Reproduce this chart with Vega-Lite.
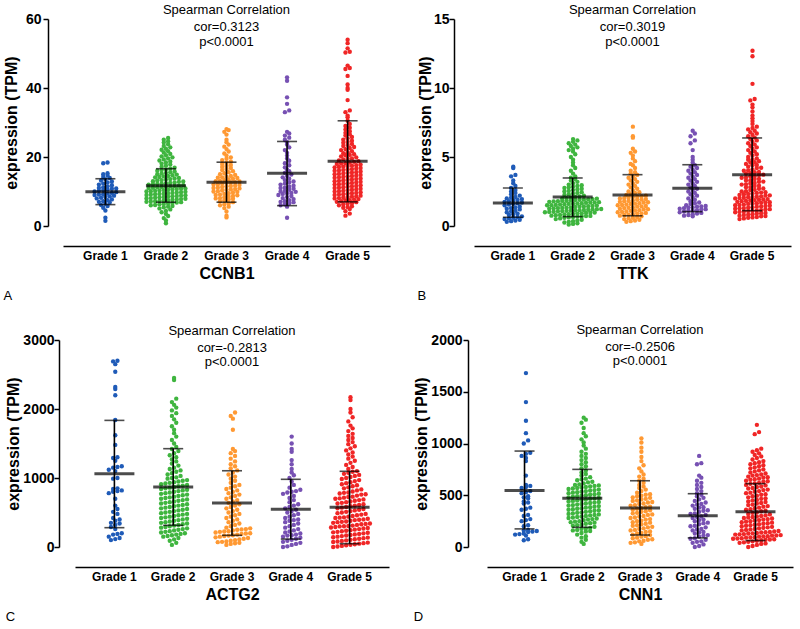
{
"$schema": "https://vega.github.io/schema/vega-lite/v6.json",
"padding": {"left": -25, "top": 4, "right": 5, "bottom": 5},
"config": {
 "font": "Liberation Sans",
 "view": {"stroke": null},
 "axis": {"grid": false, "domainColor": "black", "domainWidth": 1.5, "tickColor": "black", "tickWidth": 1.5, "labelColor": "black", "titleColor": "black", "labelFontWeight": "bold", "titleFontWeight": "bold"},
 "axisX": {"ticks": false, "labelFontSize": 12, "titleFontSize": 16, "labelAngle": 0, "offset": 20, "labelPadding": 4, "titlePadding": 4},
 "axisY": {"labelFontSize": 14, "titleFontSize": 16, "tickSize": 5, "format": "d"},
 "title": {"orient": "bottom", "anchor": "start", "frame": "bounds", "fontSize": 13, "fontWeight": "normal", "offset": 9, "color": "black"}
},
"datasets": {
"stats": [
 {"p":"A","g":1,"m":9.9,"lo":6.2,"hi":13.7},{"p":"A","g":2,"m":11.7,"lo":6.9,"hi":16.6},{"p":"A","g":3,"m":12.7,"lo":6.9,"hi":18.5},{"p":"A","g":4,"m":15.3,"lo":5.9,"hi":24.5},{"p":"A","g":5,"m":18.8,"lo":7.0,"hi":30.5},
 {"p":"B","g":1,"m":1.67,"lo":0.63,"hi":2.75},{"p":"B","g":2,"m":2.1,"lo":0.68,"hi":3.48},{"p":"B","g":3,"m":2.25,"lo":0.74,"hi":3.72},{"p":"B","g":4,"m":2.73,"lo":1.04,"hi":4.44},{"p":"B","g":5,"m":3.72,"lo":1.11,"hi":6.38},
 {"p":"C","g":1,"m":1062,"lo":280,"hi":1835},{"p":"C","g":2,"m":869,"lo":314,"hi":1425},{"p":"C","g":3,"m":637,"lo":169,"hi":1105},{"p":"C","g":4,"m":546,"lo":115,"hi":981},{"p":"C","g":5,"m":575,"lo":48,"hi":1097},
 {"p":"D","g":1,"m":546,"lo":175,"hi":927},{"p":"D","g":2,"m":470,"lo":190,"hi":750},{"p":"D","g":3,"m":378,"lo":116,"hi":640},{"p":"D","g":4,"m":302,"lo":88,"hi":515},{"p":"D","g":5,"m":340,"lo":62,"hi":612}
],
"ccnb1": [
{"g":1,"v":1.5},{"g":1,"v":2.4},{"g":1,"v":4.5},{"g":1,"v":5.3},{"g":1,"v":5.8},{"g":1,"v":6.1},{"g":1,"v":6.4},{"g":1,"v":6.8},{"g":1,"v":7.0},{"g":1,"v":7.2},{"g":1,"v":7.5},{"g":1,"v":7.7},{"g":1,"v":8.0},{"g":1,"v":8.2},{"g":1,"v":8.4},{"g":1,"v":8.6},{"g":1,"v":8.8},{"g":1,"v":9.0},{"g":1,"v":9.1},{"g":1,"v":9.2},{"g":1,"v":9.4},{"g":1,"v":9.6},{"g":1,"v":9.8},{"g":1,"v":10.0},{"g":1,"v":10.2},{"g":1,"v":10.4},{"g":1,"v":10.6},{"g":1,"v":10.8},{"g":1,"v":10.9},{"g":1,"v":11.0},{"g":1,"v":11.2},{"g":1,"v":11.5},{"g":1,"v":11.8},{"g":1,"v":12.0},{"g":1,"v":12.3},{"g":1,"v":12.6},{"g":1,"v":12.9},{"g":1,"v":13.2},{"g":1,"v":13.5},{"g":1,"v":13.9},{"g":1,"v":14.2},{"g":1,"v":14.6},{"g":1,"v":15.0},{"g":1,"v":15.3},{"g":1,"v":18.2},{"g":1,"v":18.4},
{"g":2,"v":0.8},{"g":2,"v":1.6},{"g":2,"v":2.3},{"g":2,"v":2.9},{"g":2,"v":3.5},{"g":2,"v":4.0},{"g":2,"v":4.4},{"g":2,"v":4.8},{"g":2,"v":5.1},{"g":2,"v":5.4},{"g":2,"v":5.6},{"g":2,"v":5.8},{"g":2,"v":6.0},{"g":2,"v":6.1},{"g":2,"v":6.3},{"g":2,"v":6.4},{"g":2,"v":6.5},{"g":2,"v":6.7},{"g":2,"v":6.8},{"g":2,"v":6.9},{"g":2,"v":7.0},{"g":2,"v":7.1},{"g":2,"v":7.2},{"g":2,"v":7.3},{"g":2,"v":7.4},{"g":2,"v":7.5},{"g":2,"v":7.6},{"g":2,"v":7.7},{"g":2,"v":7.8},{"g":2,"v":7.9},{"g":2,"v":8.0},{"g":2,"v":8.1},{"g":2,"v":8.2},{"g":2,"v":8.3},{"g":2,"v":8.4},{"g":2,"v":8.5},{"g":2,"v":8.6},{"g":2,"v":8.7},{"g":2,"v":8.8},{"g":2,"v":8.9},{"g":2,"v":9.0},{"g":2,"v":9.1},{"g":2,"v":9.2},{"g":2,"v":9.3},{"g":2,"v":9.4},{"g":2,"v":9.5},{"g":2,"v":9.6},{"g":2,"v":9.7},{"g":2,"v":9.8},{"g":2,"v":9.9},{"g":2,"v":10.0},{"g":2,"v":10.1},{"g":2,"v":10.2},{"g":2,"v":10.3},{"g":2,"v":10.4},{"g":2,"v":10.5},{"g":2,"v":10.6},{"g":2,"v":10.7},{"g":2,"v":10.8},{"g":2,"v":10.9},{"g":2,"v":11.0},{"g":2,"v":11.1},{"g":2,"v":11.2},{"g":2,"v":11.3},{"g":2,"v":11.4},{"g":2,"v":11.5},{"g":2,"v":11.6},{"g":2,"v":11.7},{"g":2,"v":11.8},{"g":2,"v":12.0},{"g":2,"v":12.1},{"g":2,"v":12.2},{"g":2,"v":12.3},{"g":2,"v":12.4},{"g":2,"v":12.5},{"g":2,"v":12.6},{"g":2,"v":12.8},{"g":2,"v":12.9},{"g":2,"v":13.0},{"g":2,"v":13.2},{"g":2,"v":13.3},{"g":2,"v":13.5},{"g":2,"v":13.6},{"g":2,"v":13.8},{"g":2,"v":13.9},{"g":2,"v":14.1},{"g":2,"v":14.2},{"g":2,"v":14.4},{"g":2,"v":14.5},{"g":2,"v":14.7},{"g":2,"v":14.9},{"g":2,"v":15.0},{"g":2,"v":15.2},{"g":2,"v":15.4},{"g":2,"v":15.6},{"g":2,"v":15.8},{"g":2,"v":16.0},{"g":2,"v":16.2},{"g":2,"v":16.4},{"g":2,"v":16.6},{"g":2,"v":16.9},{"g":2,"v":17.2},{"g":2,"v":17.5},{"g":2,"v":17.8},{"g":2,"v":18.1},{"g":2,"v":18.4},{"g":2,"v":18.7},{"g":2,"v":19.0},{"g":2,"v":19.3},{"g":2,"v":19.6},{"g":2,"v":19.9},{"g":2,"v":20.2},{"g":2,"v":20.5},{"g":2,"v":20.9},{"g":2,"v":21.3},{"g":2,"v":21.7},{"g":2,"v":22.1},{"g":2,"v":22.4},{"g":2,"v":22.8},{"g":2,"v":23.2},{"g":2,"v":23.7},{"g":2,"v":24.2},{"g":2,"v":24.6},{"g":2,"v":25.0},{"g":2,"v":25.5},
{"g":3,"v":2.5},{"g":3,"v":3.0},{"g":3,"v":4.2},{"g":3,"v":5.2},{"g":3,"v":5.6},{"g":3,"v":6.0},{"g":3,"v":6.3},{"g":3,"v":6.6},{"g":3,"v":6.9},{"g":3,"v":7.2},{"g":3,"v":7.5},{"g":3,"v":7.7},{"g":3,"v":7.9},{"g":3,"v":8.0},{"g":3,"v":8.1},{"g":3,"v":8.3},{"g":3,"v":8.5},{"g":3,"v":8.7},{"g":3,"v":8.9},{"g":3,"v":9.0},{"g":3,"v":9.1},{"g":3,"v":9.3},{"g":3,"v":9.5},{"g":3,"v":9.7},{"g":3,"v":9.9},{"g":3,"v":10.0},{"g":3,"v":10.1},{"g":3,"v":10.3},{"g":3,"v":10.5},{"g":3,"v":10.6},{"g":3,"v":10.7},{"g":3,"v":10.9},{"g":3,"v":11.0},{"g":3,"v":11.1},{"g":3,"v":11.3},{"g":3,"v":11.5},{"g":3,"v":11.6},{"g":3,"v":11.7},{"g":3,"v":11.9},{"g":3,"v":12.0},{"g":3,"v":12.1},{"g":3,"v":12.3},{"g":3,"v":12.5},{"g":3,"v":12.6},{"g":3,"v":12.7},{"g":3,"v":12.9},{"g":3,"v":13.0},{"g":3,"v":13.1},{"g":3,"v":13.3},{"g":3,"v":13.5},{"g":3,"v":13.7},{"g":3,"v":13.9},{"g":3,"v":14.0},{"g":3,"v":14.1},{"g":3,"v":14.3},{"g":3,"v":14.5},{"g":3,"v":14.8},{"g":3,"v":15.0},{"g":3,"v":15.3},{"g":3,"v":15.6},{"g":3,"v":15.9},{"g":3,"v":16.2},{"g":3,"v":16.5},{"g":3,"v":16.8},{"g":3,"v":17.1},{"g":3,"v":17.4},{"g":3,"v":17.7},{"g":3,"v":18.0},{"g":3,"v":18.3},{"g":3,"v":18.7},{"g":3,"v":19.1},{"g":3,"v":19.5},{"g":3,"v":19.9},{"g":3,"v":20.4},{"g":3,"v":21.0},{"g":3,"v":21.6},{"g":3,"v":22.3},{"g":3,"v":23.0},{"g":3,"v":23.6},{"g":3,"v":24.3},{"g":3,"v":25.0},{"g":3,"v":26.5},{"g":3,"v":27.3},{"g":3,"v":27.8},{"g":3,"v":28.1},
{"g":4,"v":2.4},{"g":4,"v":5.6},{"g":4,"v":6.0},{"g":4,"v":6.3},{"g":4,"v":6.6},{"g":4,"v":6.9},{"g":4,"v":7.0},{"g":4,"v":7.2},{"g":4,"v":7.5},{"g":4,"v":7.8},{"g":4,"v":8.1},{"g":4,"v":8.4},{"g":4,"v":8.7},{"g":4,"v":9.0},{"g":4,"v":9.3},{"g":4,"v":9.5},{"g":4,"v":9.6},{"g":4,"v":9.9},{"g":4,"v":10.0},{"g":4,"v":10.2},{"g":4,"v":10.5},{"g":4,"v":10.8},{"g":4,"v":11.0},{"g":4,"v":11.1},{"g":4,"v":11.4},{"g":4,"v":11.7},{"g":4,"v":12.0},{"g":4,"v":12.3},{"g":4,"v":12.6},{"g":4,"v":12.9},{"g":4,"v":13.3},{"g":4,"v":13.7},{"g":4,"v":14.1},{"g":4,"v":14.5},{"g":4,"v":14.9},{"g":4,"v":15.4},{"g":4,"v":15.9},{"g":4,"v":16.4},{"g":4,"v":17.0},{"g":4,"v":17.6},{"g":4,"v":18.2},{"g":4,"v":18.9},{"g":4,"v":19.6},{"g":4,"v":20.4},{"g":4,"v":21.2},{"g":4,"v":22.0},{"g":4,"v":22.8},{"g":4,"v":23.6},{"g":4,"v":24.3},{"g":4,"v":25.0},{"g":4,"v":25.6},{"g":4,"v":26.2},{"g":4,"v":26.8},{"g":4,"v":27.3},{"g":4,"v":33.0},{"g":4,"v":33.5},{"g":4,"v":35.4},{"g":4,"v":37.3},{"g":4,"v":42.1},{"g":4,"v":43.1},
{"g":5,"v":3.0},{"g":5,"v":3.6},{"g":5,"v":4.3},{"g":5,"v":4.9},{"g":5,"v":5.3},{"g":5,"v":5.5},{"g":5,"v":5.7},{"g":5,"v":6.0},{"g":5,"v":6.3},{"g":5,"v":6.5},{"g":5,"v":6.6},{"g":5,"v":6.9},{"g":5,"v":7.0},{"g":5,"v":7.2},{"g":5,"v":7.4},{"g":5,"v":7.5},{"g":5,"v":7.6},{"g":5,"v":7.8},{"g":5,"v":8.0},{"g":5,"v":8.1},{"g":5,"v":8.2},{"g":5,"v":8.4},{"g":5,"v":8.5},{"g":5,"v":8.6},{"g":5,"v":8.8},{"g":5,"v":9.0},{"g":5,"v":9.1},{"g":5,"v":9.2},{"g":5,"v":9.4},{"g":5,"v":9.5},{"g":5,"v":9.6},{"g":5,"v":9.8},{"g":5,"v":10.0},{"g":5,"v":10.1},{"g":5,"v":10.2},{"g":5,"v":10.4},{"g":5,"v":10.5},{"g":5,"v":10.6},{"g":5,"v":10.8},{"g":5,"v":11.0},{"g":5,"v":11.1},{"g":5,"v":11.2},{"g":5,"v":11.4},{"g":5,"v":11.5},{"g":5,"v":11.6},{"g":5,"v":11.8},{"g":5,"v":12.0},{"g":5,"v":12.1},{"g":5,"v":12.2},{"g":5,"v":12.4},{"g":5,"v":12.5},{"g":5,"v":12.6},{"g":5,"v":12.8},{"g":5,"v":13.0},{"g":5,"v":13.1},{"g":5,"v":13.2},{"g":5,"v":13.4},{"g":5,"v":13.5},{"g":5,"v":13.6},{"g":5,"v":13.8},{"g":5,"v":14.0},{"g":5,"v":14.1},{"g":5,"v":14.2},{"g":5,"v":14.4},{"g":5,"v":14.5},{"g":5,"v":14.6},{"g":5,"v":14.8},{"g":5,"v":15.0},{"g":5,"v":15.1},{"g":5,"v":15.2},{"g":5,"v":15.4},{"g":5,"v":15.5},{"g":5,"v":15.6},{"g":5,"v":15.8},{"g":5,"v":16.0},{"g":5,"v":16.1},{"g":5,"v":16.2},{"g":5,"v":16.4},{"g":5,"v":16.5},{"g":5,"v":16.6},{"g":5,"v":16.8},{"g":5,"v":17.0},{"g":5,"v":17.1},{"g":5,"v":17.2},{"g":5,"v":17.4},{"g":5,"v":17.5},{"g":5,"v":17.6},{"g":5,"v":17.8},{"g":5,"v":18.0},{"g":5,"v":18.1},{"g":5,"v":18.2},{"g":5,"v":18.4},{"g":5,"v":18.6},{"g":5,"v":18.8},{"g":5,"v":19.0},{"g":5,"v":19.3},{"g":5,"v":19.5},{"g":5,"v":19.6},{"g":5,"v":19.9},{"g":5,"v":20.2},{"g":5,"v":20.5},{"g":5,"v":20.6},{"g":5,"v":20.8},{"g":5,"v":21.1},{"g":5,"v":21.4},{"g":5,"v":21.7},{"g":5,"v":22.0},{"g":5,"v":22.3},{"g":5,"v":22.6},{"g":5,"v":22.9},{"g":5,"v":23.2},{"g":5,"v":23.5},{"g":5,"v":23.8},{"g":5,"v":24.1},{"g":5,"v":24.4},{"g":5,"v":24.7},{"g":5,"v":25.0},{"g":5,"v":25.4},{"g":5,"v":25.8},{"g":5,"v":26.2},{"g":5,"v":26.6},{"g":5,"v":27.0},{"g":5,"v":27.5},{"g":5,"v":28.0},{"g":5,"v":28.5},{"g":5,"v":29.0},{"g":5,"v":29.6},{"g":5,"v":30.5},{"g":5,"v":31.5},{"g":5,"v":32.0},{"g":5,"v":33.0},{"g":5,"v":33.5},{"g":5,"v":36.5},{"g":5,"v":39.5},{"g":5,"v":40.0},{"g":5,"v":41.0},{"g":5,"v":43.5},{"g":5,"v":45.5},{"g":5,"v":45.8},{"g":5,"v":46.5},{"g":5,"v":50.3},{"g":5,"v":50.5},{"g":5,"v":51.5},{"g":5,"v":53.0},{"g":5,"v":54.0}
],
"ttk": [
{"g":1,"v":0.3},{"g":1,"v":0.35},{"g":1,"v":0.4},{"g":1,"v":0.45},{"g":1,"v":0.5},{"g":1,"v":0.55},{"g":1,"v":0.6},{"g":1,"v":0.65},{"g":1,"v":0.7},{"g":1,"v":0.8},{"g":1,"v":0.85},{"g":1,"v":0.9},{"g":1,"v":1.0},{"g":1,"v":1.05},{"g":1,"v":1.1},{"g":1,"v":1.2},{"g":1,"v":1.25},{"g":1,"v":1.3},{"g":1,"v":1.35},{"g":1,"v":1.4},{"g":1,"v":1.5},{"g":1,"v":1.55},{"g":1,"v":1.6},{"g":1,"v":1.65},{"g":1,"v":1.7},{"g":1,"v":1.75},{"g":1,"v":1.8},{"g":1,"v":1.85},{"g":1,"v":1.9},{"g":1,"v":1.95},{"g":1,"v":2.0},{"g":1,"v":2.05},{"g":1,"v":2.1},{"g":1,"v":2.2},{"g":1,"v":2.3},{"g":1,"v":2.4},{"g":1,"v":2.5},{"g":1,"v":2.6},{"g":1,"v":2.75},{"g":1,"v":2.9},{"g":1,"v":3.1},{"g":1,"v":3.3},{"g":1,"v":3.6},{"g":1,"v":3.7},{"g":1,"v":4.2},{"g":1,"v":4.3},
{"g":2,"v":0.1},{"g":2,"v":0.15},{"g":2,"v":0.2},{"g":2,"v":0.25},{"g":2,"v":0.3},{"g":2,"v":0.35},{"g":2,"v":0.4},{"g":2,"v":0.45},{"g":2,"v":0.5},{"g":2,"v":0.55},{"g":2,"v":0.6},{"g":2,"v":0.62},{"g":2,"v":0.65},{"g":2,"v":0.68},{"g":2,"v":0.7},{"g":2,"v":0.72},{"g":2,"v":0.73},{"g":2,"v":0.75},{"g":2,"v":0.78},{"g":2,"v":0.8},{"g":2,"v":0.83},{"g":2,"v":0.86},{"g":2,"v":0.88},{"g":2,"v":0.9},{"g":2,"v":0.92},{"g":2,"v":0.95},{"g":2,"v":0.96},{"g":2,"v":0.98},{"g":2,"v":1.0},{"g":2,"v":1.02},{"g":2,"v":1.03},{"g":2,"v":1.06},{"g":2,"v":1.08},{"g":2,"v":1.1},{"g":2,"v":1.11},{"g":2,"v":1.13},{"g":2,"v":1.15},{"g":2,"v":1.16},{"g":2,"v":1.18},{"g":2,"v":1.2},{"g":2,"v":1.22},{"g":2,"v":1.23},{"g":2,"v":1.25},{"g":2,"v":1.28},{"g":2,"v":1.3},{"g":2,"v":1.31},{"g":2,"v":1.33},{"g":2,"v":1.35},{"g":2,"v":1.38},{"g":2,"v":1.4},{"g":2,"v":1.42},{"g":2,"v":1.43},{"g":2,"v":1.45},{"g":2,"v":1.48},{"g":2,"v":1.5},{"g":2,"v":1.51},{"g":2,"v":1.53},{"g":2,"v":1.55},{"g":2,"v":1.58},{"g":2,"v":1.6},{"g":2,"v":1.62},{"g":2,"v":1.63},{"g":2,"v":1.65},{"g":2,"v":1.68},{"g":2,"v":1.7},{"g":2,"v":1.71},{"g":2,"v":1.73},{"g":2,"v":1.75},{"g":2,"v":1.78},{"g":2,"v":1.8},{"g":2,"v":1.82},{"g":2,"v":1.83},{"g":2,"v":1.85},{"g":2,"v":1.88},{"g":2,"v":1.9},{"g":2,"v":1.91},{"g":2,"v":1.93},{"g":2,"v":1.95},{"g":2,"v":1.98},{"g":2,"v":2.0},{"g":2,"v":2.02},{"g":2,"v":2.05},{"g":2,"v":2.1},{"g":2,"v":2.15},{"g":2,"v":2.2},{"g":2,"v":2.25},{"g":2,"v":2.3},{"g":2,"v":2.35},{"g":2,"v":2.4},{"g":2,"v":2.45},{"g":2,"v":2.5},{"g":2,"v":2.55},{"g":2,"v":2.6},{"g":2,"v":2.65},{"g":2,"v":2.7},{"g":2,"v":2.75},{"g":2,"v":2.8},{"g":2,"v":2.85},{"g":2,"v":2.9},{"g":2,"v":2.95},{"g":2,"v":3.0},{"g":2,"v":3.1},{"g":2,"v":3.2},{"g":2,"v":3.3},{"g":2,"v":3.4},{"g":2,"v":3.5},{"g":2,"v":3.6},{"g":2,"v":3.8},{"g":2,"v":4.0},{"g":2,"v":4.2},{"g":2,"v":4.4},{"g":2,"v":4.6},{"g":2,"v":4.8},{"g":2,"v":5.0},{"g":2,"v":5.2},{"g":2,"v":5.4},{"g":2,"v":5.5},{"g":2,"v":5.6},{"g":2,"v":5.7},{"g":2,"v":5.8},{"g":2,"v":5.9},{"g":2,"v":6.0},{"g":2,"v":6.1},{"g":2,"v":6.2},{"g":2,"v":6.3},
{"g":3,"v":0.3},{"g":3,"v":0.35},{"g":3,"v":0.4},{"g":3,"v":0.45},{"g":3,"v":0.5},{"g":3,"v":0.55},{"g":3,"v":0.6},{"g":3,"v":0.65},{"g":3,"v":0.7},{"g":3,"v":0.75},{"g":3,"v":0.8},{"g":3,"v":0.82},{"g":3,"v":0.85},{"g":3,"v":0.9},{"g":3,"v":0.92},{"g":3,"v":0.95},{"g":3,"v":1.0},{"g":3,"v":1.02},{"g":3,"v":1.05},{"g":3,"v":1.1},{"g":3,"v":1.12},{"g":3,"v":1.15},{"g":3,"v":1.2},{"g":3,"v":1.22},{"g":3,"v":1.25},{"g":3,"v":1.3},{"g":3,"v":1.32},{"g":3,"v":1.35},{"g":3,"v":1.4},{"g":3,"v":1.42},{"g":3,"v":1.45},{"g":3,"v":1.5},{"g":3,"v":1.52},{"g":3,"v":1.55},{"g":3,"v":1.6},{"g":3,"v":1.62},{"g":3,"v":1.65},{"g":3,"v":1.7},{"g":3,"v":1.72},{"g":3,"v":1.75},{"g":3,"v":1.8},{"g":3,"v":1.82},{"g":3,"v":1.85},{"g":3,"v":1.9},{"g":3,"v":1.92},{"g":3,"v":1.95},{"g":3,"v":2.0},{"g":3,"v":2.02},{"g":3,"v":2.05},{"g":3,"v":2.1},{"g":3,"v":2.12},{"g":3,"v":2.15},{"g":3,"v":2.2},{"g":3,"v":2.25},{"g":3,"v":2.3},{"g":3,"v":2.4},{"g":3,"v":2.45},{"g":3,"v":2.5},{"g":3,"v":2.6},{"g":3,"v":2.7},{"g":3,"v":2.8},{"g":3,"v":2.9},{"g":3,"v":3.0},{"g":3,"v":3.1},{"g":3,"v":3.2},{"g":3,"v":3.3},{"g":3,"v":3.4},{"g":3,"v":3.5},{"g":3,"v":3.6},{"g":3,"v":3.7},{"g":3,"v":3.8},{"g":3,"v":3.9},{"g":3,"v":4.0},{"g":3,"v":4.2},{"g":3,"v":4.4},{"g":3,"v":4.5},{"g":3,"v":4.7},{"g":3,"v":4.9},{"g":3,"v":5.1},{"g":3,"v":5.3},{"g":3,"v":5.4},{"g":3,"v":5.6},{"g":3,"v":6.4},{"g":3,"v":6.5},{"g":3,"v":7.2},
{"g":4,"v":0.7},{"g":4,"v":0.75},{"g":4,"v":0.8},{"g":4,"v":0.85},{"g":4,"v":0.9},{"g":4,"v":0.95},{"g":4,"v":1.0},{"g":4,"v":1.05},{"g":4,"v":1.1},{"g":4,"v":1.12},{"g":4,"v":1.15},{"g":4,"v":1.2},{"g":4,"v":1.22},{"g":4,"v":1.25},{"g":4,"v":1.3},{"g":4,"v":1.32},{"g":4,"v":1.35},{"g":4,"v":1.4},{"g":4,"v":1.42},{"g":4,"v":1.45},{"g":4,"v":1.5},{"g":4,"v":1.6},{"g":4,"v":1.65},{"g":4,"v":1.7},{"g":4,"v":1.8},{"g":4,"v":1.9},{"g":4,"v":2.0},{"g":4,"v":2.1},{"g":4,"v":2.2},{"g":4,"v":2.3},{"g":4,"v":2.4},{"g":4,"v":2.5},{"g":4,"v":2.6},{"g":4,"v":2.7},{"g":4,"v":2.8},{"g":4,"v":2.9},{"g":4,"v":3.0},{"g":4,"v":3.1},{"g":4,"v":3.2},{"g":4,"v":3.3},{"g":4,"v":3.4},{"g":4,"v":3.5},{"g":4,"v":3.6},{"g":4,"v":3.7},{"g":4,"v":3.8},{"g":4,"v":3.9},{"g":4,"v":4.0},{"g":4,"v":4.1},{"g":4,"v":4.2},{"g":4,"v":4.3},{"g":4,"v":4.4},{"g":4,"v":4.6},{"g":4,"v":4.8},{"g":4,"v":5.0},{"g":4,"v":5.5},{"g":4,"v":6.0},{"g":4,"v":6.2},{"g":4,"v":6.5},{"g":4,"v":6.7},{"g":4,"v":6.9},
{"g":5,"v":0.5},{"g":5,"v":0.55},{"g":5,"v":0.6},{"g":5,"v":0.62},{"g":5,"v":0.65},{"g":5,"v":0.7},{"g":5,"v":0.72},{"g":5,"v":0.75},{"g":5,"v":0.8},{"g":5,"v":0.82},{"g":5,"v":0.85},{"g":5,"v":0.9},{"g":5,"v":0.92},{"g":5,"v":0.95},{"g":5,"v":1.0},{"g":5,"v":1.02},{"g":5,"v":1.05},{"g":5,"v":1.08},{"g":5,"v":1.1},{"g":5,"v":1.12},{"g":5,"v":1.15},{"g":5,"v":1.2},{"g":5,"v":1.22},{"g":5,"v":1.25},{"g":5,"v":1.28},{"g":5,"v":1.3},{"g":5,"v":1.32},{"g":5,"v":1.35},{"g":5,"v":1.4},{"g":5,"v":1.42},{"g":5,"v":1.45},{"g":5,"v":1.48},{"g":5,"v":1.5},{"g":5,"v":1.52},{"g":5,"v":1.55},{"g":5,"v":1.6},{"g":5,"v":1.62},{"g":5,"v":1.65},{"g":5,"v":1.68},{"g":5,"v":1.7},{"g":5,"v":1.72},{"g":5,"v":1.75},{"g":5,"v":1.8},{"g":5,"v":1.82},{"g":5,"v":1.85},{"g":5,"v":1.88},{"g":5,"v":1.9},{"g":5,"v":1.92},{"g":5,"v":1.95},{"g":5,"v":2.0},{"g":5,"v":2.02},{"g":5,"v":2.05},{"g":5,"v":2.08},{"g":5,"v":2.1},{"g":5,"v":2.12},{"g":5,"v":2.15},{"g":5,"v":2.2},{"g":5,"v":2.22},{"g":5,"v":2.25},{"g":5,"v":2.3},{"g":5,"v":2.32},{"g":5,"v":2.35},{"g":5,"v":2.4},{"g":5,"v":2.42},{"g":5,"v":2.45},{"g":5,"v":2.5},{"g":5,"v":2.52},{"g":5,"v":2.6},{"g":5,"v":2.62},{"g":5,"v":2.7},{"g":5,"v":2.72},{"g":5,"v":2.8},{"g":5,"v":2.82},{"g":5,"v":2.9},{"g":5,"v":2.92},{"g":5,"v":3.0},{"g":5,"v":3.02},{"g":5,"v":3.1},{"g":5,"v":3.12},{"g":5,"v":3.2},{"g":5,"v":3.22},{"g":5,"v":3.3},{"g":5,"v":3.32},{"g":5,"v":3.4},{"g":5,"v":3.42},{"g":5,"v":3.5},{"g":5,"v":3.52},{"g":5,"v":3.6},{"g":5,"v":3.62},{"g":5,"v":3.7},{"g":5,"v":3.72},{"g":5,"v":3.8},{"g":5,"v":3.82},{"g":5,"v":3.9},{"g":5,"v":3.92},{"g":5,"v":4.0},{"g":5,"v":4.02},{"g":5,"v":4.1},{"g":5,"v":4.2},{"g":5,"v":4.22},{"g":5,"v":4.3},{"g":5,"v":4.4},{"g":5,"v":4.42},{"g":5,"v":4.5},{"g":5,"v":4.6},{"g":5,"v":4.62},{"g":5,"v":4.7},{"g":5,"v":4.8},{"g":5,"v":4.82},{"g":5,"v":4.9},{"g":5,"v":5.0},{"g":5,"v":5.1},{"g":5,"v":5.2},{"g":5,"v":5.3},{"g":5,"v":5.4},{"g":5,"v":5.5},{"g":5,"v":5.6},{"g":5,"v":5.7},{"g":5,"v":5.8},{"g":5,"v":5.9},{"g":5,"v":6.0},{"g":5,"v":6.1},{"g":5,"v":6.2},{"g":5,"v":6.3},{"g":5,"v":6.4},{"g":5,"v":6.5},{"g":5,"v":6.6},{"g":5,"v":6.7},{"g":5,"v":6.8},{"g":5,"v":6.9},{"g":5,"v":7.0},{"g":5,"v":7.1},{"g":5,"v":7.2},{"g":5,"v":7.4},{"g":5,"v":7.6},{"g":5,"v":7.8},{"g":5,"v":8.0},{"g":5,"v":8.3},{"g":5,"v":8.6},{"g":5,"v":8.8},{"g":5,"v":9.1},{"g":5,"v":9.2},{"g":5,"v":10.3},{"g":5,"v":12.3},{"g":5,"v":12.7}
],
"actg2": [
{"g":1,"v":100},{"g":1,"v":115},{"g":1,"v":130},{"g":1,"v":150},{"g":1,"v":180},{"g":1,"v":190},{"g":1,"v":200},{"g":1,"v":260},{"g":1,"v":290},{"g":1,"v":320},{"g":1,"v":340},{"g":1,"v":350},{"g":1,"v":380},{"g":1,"v":400},{"g":1,"v":420},{"g":1,"v":480},{"g":1,"v":510},{"g":1,"v":550},{"g":1,"v":600},{"g":1,"v":700},{"g":1,"v":780},{"g":1,"v":800},{"g":1,"v":810},{"g":1,"v":820},{"g":1,"v":840},{"g":1,"v":850},{"g":1,"v":990},{"g":1,"v":1000},{"g":1,"v":1100},{"g":1,"v":1120},{"g":1,"v":1150},{"g":1,"v":1160},{"g":1,"v":1170},{"g":1,"v":1250},{"g":1,"v":1290},{"g":1,"v":1300},{"g":1,"v":1480},{"g":1,"v":1620},{"g":1,"v":1840},{"g":1,"v":2200},{"g":1,"v":2290},{"g":1,"v":2320},{"g":1,"v":2540},{"g":1,"v":2650},{"g":1,"v":2690},{"g":1,"v":2700},
{"g":2,"v":30},{"g":2,"v":60},{"g":2,"v":90},{"g":2,"v":110},{"g":2,"v":130},{"g":2,"v":150},{"g":2,"v":160},{"g":2,"v":170},{"g":2,"v":180},{"g":2,"v":190},{"g":2,"v":200},{"g":2,"v":210},{"g":2,"v":220},{"g":2,"v":230},{"g":2,"v":240},{"g":2,"v":250},{"g":2,"v":260},{"g":2,"v":270},{"g":2,"v":280},{"g":2,"v":290},{"g":2,"v":300},{"g":2,"v":310},{"g":2,"v":320},{"g":2,"v":330},{"g":2,"v":340},{"g":2,"v":350},{"g":2,"v":360},{"g":2,"v":370},{"g":2,"v":380},{"g":2,"v":390},{"g":2,"v":400},{"g":2,"v":410},{"g":2,"v":420},{"g":2,"v":430},{"g":2,"v":440},{"g":2,"v":450},{"g":2,"v":460},{"g":2,"v":470},{"g":2,"v":480},{"g":2,"v":490},{"g":2,"v":500},{"g":2,"v":510},{"g":2,"v":520},{"g":2,"v":530},{"g":2,"v":540},{"g":2,"v":550},{"g":2,"v":560},{"g":2,"v":570},{"g":2,"v":580},{"g":2,"v":590},{"g":2,"v":600},{"g":2,"v":610},{"g":2,"v":620},{"g":2,"v":630},{"g":2,"v":640},{"g":2,"v":650},{"g":2,"v":660},{"g":2,"v":670},{"g":2,"v":680},{"g":2,"v":690},{"g":2,"v":700},{"g":2,"v":710},{"g":2,"v":720},{"g":2,"v":730},{"g":2,"v":740},{"g":2,"v":750},{"g":2,"v":760},{"g":2,"v":770},{"g":2,"v":780},{"g":2,"v":790},{"g":2,"v":800},{"g":2,"v":810},{"g":2,"v":820},{"g":2,"v":830},{"g":2,"v":840},{"g":2,"v":850},{"g":2,"v":860},{"g":2,"v":870},{"g":2,"v":880},{"g":2,"v":890},{"g":2,"v":900},{"g":2,"v":910},{"g":2,"v":920},{"g":2,"v":930},{"g":2,"v":940},{"g":2,"v":950},{"g":2,"v":960},{"g":2,"v":970},{"g":2,"v":990},{"g":2,"v":1000},{"g":2,"v":1010},{"g":2,"v":1030},{"g":2,"v":1050},{"g":2,"v":1070},{"g":2,"v":1090},{"g":2,"v":1110},{"g":2,"v":1130},{"g":2,"v":1150},{"g":2,"v":1180},{"g":2,"v":1210},{"g":2,"v":1240},{"g":2,"v":1270},{"g":2,"v":1300},{"g":2,"v":1330},{"g":2,"v":1360},{"g":2,"v":1390},{"g":2,"v":1420},{"g":2,"v":1450},{"g":2,"v":1500},{"g":2,"v":1550},{"g":2,"v":1600},{"g":2,"v":1650},{"g":2,"v":1700},{"g":2,"v":1750},{"g":2,"v":1800},{"g":2,"v":1850},{"g":2,"v":1900},{"g":2,"v":1940},{"g":2,"v":1980},{"g":2,"v":2020},{"g":2,"v":2060},{"g":2,"v":2100},{"g":2,"v":2150},{"g":2,"v":2420},{"g":2,"v":2450},
{"g":3,"v":30},{"g":3,"v":45},{"g":3,"v":55},{"g":3,"v":60},{"g":3,"v":70},{"g":3,"v":75},{"g":3,"v":80},{"g":3,"v":90},{"g":3,"v":100},{"g":3,"v":110},{"g":3,"v":120},{"g":3,"v":130},{"g":3,"v":140},{"g":3,"v":150},{"g":3,"v":160},{"g":3,"v":165},{"g":3,"v":170},{"g":3,"v":180},{"g":3,"v":190},{"g":3,"v":195},{"g":3,"v":200},{"g":3,"v":210},{"g":3,"v":220},{"g":3,"v":225},{"g":3,"v":230},{"g":3,"v":240},{"g":3,"v":250},{"g":3,"v":255},{"g":3,"v":260},{"g":3,"v":270},{"g":3,"v":280},{"g":3,"v":300},{"g":3,"v":320},{"g":3,"v":340},{"g":3,"v":360},{"g":3,"v":380},{"g":3,"v":400},{"g":3,"v":420},{"g":3,"v":440},{"g":3,"v":460},{"g":3,"v":480},{"g":3,"v":500},{"g":3,"v":520},{"g":3,"v":540},{"g":3,"v":560},{"g":3,"v":580},{"g":3,"v":600},{"g":3,"v":620},{"g":3,"v":640},{"g":3,"v":660},{"g":3,"v":680},{"g":3,"v":700},{"g":3,"v":720},{"g":3,"v":740},{"g":3,"v":760},{"g":3,"v":780},{"g":3,"v":800},{"g":3,"v":820},{"g":3,"v":840},{"g":3,"v":860},{"g":3,"v":880},{"g":3,"v":900},{"g":3,"v":930},{"g":3,"v":960},{"g":3,"v":990},{"g":3,"v":1020},{"g":3,"v":1050},{"g":3,"v":1080},{"g":3,"v":1110},{"g":3,"v":1140},{"g":3,"v":1170},{"g":3,"v":1200},{"g":3,"v":1240},{"g":3,"v":1280},{"g":3,"v":1320},{"g":3,"v":1360},{"g":3,"v":1390},{"g":3,"v":1420},{"g":3,"v":1700},{"g":3,"v":1860},{"g":3,"v":1900},{"g":3,"v":1950},
{"g":4,"v":0},{"g":4,"v":10},{"g":4,"v":30},{"g":4,"v":45},{"g":4,"v":60},{"g":4,"v":75},{"g":4,"v":90},{"g":4,"v":105},{"g":4,"v":120},{"g":4,"v":135},{"g":4,"v":150},{"g":4,"v":165},{"g":4,"v":170},{"g":4,"v":180},{"g":4,"v":195},{"g":4,"v":210},{"g":4,"v":225},{"g":4,"v":240},{"g":4,"v":260},{"g":4,"v":280},{"g":4,"v":300},{"g":4,"v":320},{"g":4,"v":340},{"g":4,"v":360},{"g":4,"v":380},{"g":4,"v":390},{"g":4,"v":400},{"g":4,"v":420},{"g":4,"v":440},{"g":4,"v":460},{"g":4,"v":480},{"g":4,"v":500},{"g":4,"v":520},{"g":4,"v":540},{"g":4,"v":560},{"g":4,"v":580},{"g":4,"v":600},{"g":4,"v":620},{"g":4,"v":650},{"g":4,"v":680},{"g":4,"v":710},{"g":4,"v":740},{"g":4,"v":770},{"g":4,"v":790},{"g":4,"v":800},{"g":4,"v":810},{"g":4,"v":830},{"g":4,"v":860},{"g":4,"v":900},{"g":4,"v":950},{"g":4,"v":1000},{"g":4,"v":1040},{"g":4,"v":1080},{"g":4,"v":1130},{"g":4,"v":1200},{"g":4,"v":1260},{"g":4,"v":1380},{"g":4,"v":1420},{"g":4,"v":1500},{"g":4,"v":1600},
{"g":5,"v":0},{"g":5,"v":8},{"g":5,"v":16},{"g":5,"v":24},{"g":5,"v":32},{"g":5,"v":40},{"g":5,"v":48},{"g":5,"v":56},{"g":5,"v":64},{"g":5,"v":72},{"g":5,"v":80},{"g":5,"v":88},{"g":5,"v":96},{"g":5,"v":104},{"g":5,"v":112},{"g":5,"v":120},{"g":5,"v":128},{"g":5,"v":136},{"g":5,"v":142},{"g":5,"v":150},{"g":5,"v":158},{"g":5,"v":166},{"g":5,"v":174},{"g":5,"v":182},{"g":5,"v":190},{"g":5,"v":198},{"g":5,"v":206},{"g":5,"v":212},{"g":5,"v":220},{"g":5,"v":228},{"g":5,"v":236},{"g":5,"v":244},{"g":5,"v":252},{"g":5,"v":260},{"g":5,"v":268},{"g":5,"v":276},{"g":5,"v":282},{"g":5,"v":290},{"g":5,"v":298},{"g":5,"v":300},{"g":5,"v":305},{"g":5,"v":310},{"g":5,"v":320},{"g":5,"v":330},{"g":5,"v":335},{"g":5,"v":340},{"g":5,"v":350},{"g":5,"v":360},{"g":5,"v":365},{"g":5,"v":370},{"g":5,"v":380},{"g":5,"v":390},{"g":5,"v":395},{"g":5,"v":400},{"g":5,"v":410},{"g":5,"v":420},{"g":5,"v":425},{"g":5,"v":430},{"g":5,"v":440},{"g":5,"v":450},{"g":5,"v":460},{"g":5,"v":470},{"g":5,"v":480},{"g":5,"v":490},{"g":5,"v":500},{"g":5,"v":510},{"g":5,"v":520},{"g":5,"v":530},{"g":5,"v":540},{"g":5,"v":550},{"g":5,"v":560},{"g":5,"v":570},{"g":5,"v":580},{"g":5,"v":590},{"g":5,"v":600},{"g":5,"v":610},{"g":5,"v":620},{"g":5,"v":630},{"g":5,"v":640},{"g":5,"v":650},{"g":5,"v":660},{"g":5,"v":670},{"g":5,"v":680},{"g":5,"v":690},{"g":5,"v":700},{"g":5,"v":705},{"g":5,"v":715},{"g":5,"v":725},{"g":5,"v":730},{"g":5,"v":745},{"g":5,"v":760},{"g":5,"v":765},{"g":5,"v":775},{"g":5,"v":785},{"g":5,"v":790},{"g":5,"v":805},{"g":5,"v":820},{"g":5,"v":835},{"g":5,"v":850},{"g":5,"v":865},{"g":5,"v":880},{"g":5,"v":895},{"g":5,"v":910},{"g":5,"v":925},{"g":5,"v":940},{"g":5,"v":955},{"g":5,"v":970},{"g":5,"v":985},{"g":5,"v":1000},{"g":5,"v":1015},{"g":5,"v":1030},{"g":5,"v":1045},{"g":5,"v":1060},{"g":5,"v":1075},{"g":5,"v":1090},{"g":5,"v":1100},{"g":5,"v":1130},{"g":5,"v":1160},{"g":5,"v":1190},{"g":5,"v":1220},{"g":5,"v":1250},{"g":5,"v":1280},{"g":5,"v":1310},{"g":5,"v":1340},{"g":5,"v":1370},{"g":5,"v":1400},{"g":5,"v":1430},{"g":5,"v":1460},{"g":5,"v":1490},{"g":5,"v":1520},{"g":5,"v":1550},{"g":5,"v":1580},{"g":5,"v":1610},{"g":5,"v":1640},{"g":5,"v":1680},{"g":5,"v":1720},{"g":5,"v":1760},{"g":5,"v":1820},{"g":5,"v":1880},{"g":5,"v":1950},{"g":5,"v":2000},{"g":5,"v":2130},{"g":5,"v":2170}
],
"cnn1": [
{"g":1,"v":65},{"g":1,"v":75},{"g":1,"v":110},{"g":1,"v":120},{"g":1,"v":125},{"g":1,"v":130},{"g":1,"v":145},{"g":1,"v":150},{"g":1,"v":155},{"g":1,"v":160},{"g":1,"v":165},{"g":1,"v":200},{"g":1,"v":210},{"g":1,"v":250},{"g":1,"v":260},{"g":1,"v":270},{"g":1,"v":300},{"g":1,"v":310},{"g":1,"v":360},{"g":1,"v":370},{"g":1,"v":380},{"g":1,"v":420},{"g":1,"v":430},{"g":1,"v":440},{"g":1,"v":470},{"g":1,"v":480},{"g":1,"v":490},{"g":1,"v":520},{"g":1,"v":530},{"g":1,"v":540},{"g":1,"v":570},{"g":1,"v":580},{"g":1,"v":590},{"g":1,"v":600},{"g":1,"v":690},{"g":1,"v":830},{"g":1,"v":860},{"g":1,"v":880},{"g":1,"v":900},{"g":1,"v":910},{"g":1,"v":1000},{"g":1,"v":1030},{"g":1,"v":1100},{"g":1,"v":1220},{"g":1,"v":1400},{"g":1,"v":1680},
{"g":2,"v":30},{"g":2,"v":50},{"g":2,"v":70},{"g":2,"v":90},{"g":2,"v":105},{"g":2,"v":120},{"g":2,"v":135},{"g":2,"v":150},{"g":2,"v":155},{"g":2,"v":160},{"g":2,"v":165},{"g":2,"v":175},{"g":2,"v":180},{"g":2,"v":185},{"g":2,"v":195},{"g":2,"v":205},{"g":2,"v":210},{"g":2,"v":215},{"g":2,"v":225},{"g":2,"v":230},{"g":2,"v":235},{"g":2,"v":240},{"g":2,"v":245},{"g":2,"v":250},{"g":2,"v":260},{"g":2,"v":265},{"g":2,"v":270},{"g":2,"v":275},{"g":2,"v":280},{"g":2,"v":285},{"g":2,"v":290},{"g":2,"v":295},{"g":2,"v":300},{"g":2,"v":305},{"g":2,"v":310},{"g":2,"v":315},{"g":2,"v":320},{"g":2,"v":325},{"g":2,"v":330},{"g":2,"v":335},{"g":2,"v":340},{"g":2,"v":345},{"g":2,"v":350},{"g":2,"v":355},{"g":2,"v":360},{"g":2,"v":365},{"g":2,"v":370},{"g":2,"v":375},{"g":2,"v":380},{"g":2,"v":385},{"g":2,"v":390},{"g":2,"v":395},{"g":2,"v":400},{"g":2,"v":405},{"g":2,"v":410},{"g":2,"v":415},{"g":2,"v":420},{"g":2,"v":425},{"g":2,"v":430},{"g":2,"v":435},{"g":2,"v":440},{"g":2,"v":445},{"g":2,"v":450},{"g":2,"v":455},{"g":2,"v":460},{"g":2,"v":465},{"g":2,"v":470},{"g":2,"v":475},{"g":2,"v":480},{"g":2,"v":485},{"g":2,"v":490},{"g":2,"v":495},{"g":2,"v":500},{"g":2,"v":505},{"g":2,"v":510},{"g":2,"v":515},{"g":2,"v":520},{"g":2,"v":525},{"g":2,"v":530},{"g":2,"v":535},{"g":2,"v":540},{"g":2,"v":545},{"g":2,"v":550},{"g":2,"v":555},{"g":2,"v":560},{"g":2,"v":565},{"g":2,"v":570},{"g":2,"v":575},{"g":2,"v":580},{"g":2,"v":585},{"g":2,"v":590},{"g":2,"v":595},{"g":2,"v":600},{"g":2,"v":605},{"g":2,"v":615},{"g":2,"v":625},{"g":2,"v":630},{"g":2,"v":645},{"g":2,"v":655},{"g":2,"v":660},{"g":2,"v":675},{"g":2,"v":690},{"g":2,"v":705},{"g":2,"v":720},{"g":2,"v":740},{"g":2,"v":760},{"g":2,"v":780},{"g":2,"v":800},{"g":2,"v":820},{"g":2,"v":840},{"g":2,"v":860},{"g":2,"v":880},{"g":2,"v":900},{"g":2,"v":920},{"g":2,"v":950},{"g":2,"v":980},{"g":2,"v":1010},{"g":2,"v":1040},{"g":2,"v":1070},{"g":2,"v":1100},{"g":2,"v":1150},{"g":2,"v":1200},{"g":2,"v":1230},{"g":2,"v":1250},
{"g":3,"v":30},{"g":3,"v":40},{"g":3,"v":45},{"g":3,"v":55},{"g":3,"v":60},{"g":3,"v":70},{"g":3,"v":75},{"g":3,"v":85},{"g":3,"v":90},{"g":3,"v":100},{"g":3,"v":105},{"g":3,"v":115},{"g":3,"v":120},{"g":3,"v":130},{"g":3,"v":135},{"g":3,"v":145},{"g":3,"v":150},{"g":3,"v":160},{"g":3,"v":165},{"g":3,"v":175},{"g":3,"v":180},{"g":3,"v":190},{"g":3,"v":195},{"g":3,"v":205},{"g":3,"v":210},{"g":3,"v":220},{"g":3,"v":225},{"g":3,"v":235},{"g":3,"v":240},{"g":3,"v":250},{"g":3,"v":255},{"g":3,"v":265},{"g":3,"v":270},{"g":3,"v":280},{"g":3,"v":285},{"g":3,"v":295},{"g":3,"v":300},{"g":3,"v":310},{"g":3,"v":315},{"g":3,"v":325},{"g":3,"v":330},{"g":3,"v":340},{"g":3,"v":345},{"g":3,"v":355},{"g":3,"v":360},{"g":3,"v":370},{"g":3,"v":375},{"g":3,"v":385},{"g":3,"v":390},{"g":3,"v":400},{"g":3,"v":405},{"g":3,"v":415},{"g":3,"v":420},{"g":3,"v":430},{"g":3,"v":435},{"g":3,"v":445},{"g":3,"v":450},{"g":3,"v":460},{"g":3,"v":465},{"g":3,"v":475},{"g":3,"v":480},{"g":3,"v":490},{"g":3,"v":495},{"g":3,"v":505},{"g":3,"v":510},{"g":3,"v":525},{"g":3,"v":540},{"g":3,"v":555},{"g":3,"v":570},{"g":3,"v":585},{"g":3,"v":600},{"g":3,"v":620},{"g":3,"v":640},{"g":3,"v":660},{"g":3,"v":680},{"g":3,"v":700},{"g":3,"v":730},{"g":3,"v":760},{"g":3,"v":790},{"g":3,"v":830},{"g":3,"v":870},{"g":3,"v":920},{"g":3,"v":960},{"g":3,"v":1010},{"g":3,"v":1050},
{"g":4,"v":0},{"g":4,"v":10},{"g":4,"v":25},{"g":4,"v":40},{"g":4,"v":50},{"g":4,"v":55},{"g":4,"v":70},{"g":4,"v":80},{"g":4,"v":85},{"g":4,"v":100},{"g":4,"v":110},{"g":4,"v":115},{"g":4,"v":130},{"g":4,"v":140},{"g":4,"v":145},{"g":4,"v":160},{"g":4,"v":170},{"g":4,"v":175},{"g":4,"v":190},{"g":4,"v":200},{"g":4,"v":205},{"g":4,"v":220},{"g":4,"v":230},{"g":4,"v":235},{"g":4,"v":250},{"g":4,"v":260},{"g":4,"v":265},{"g":4,"v":280},{"g":4,"v":290},{"g":4,"v":295},{"g":4,"v":310},{"g":4,"v":320},{"g":4,"v":325},{"g":4,"v":340},{"g":4,"v":350},{"g":4,"v":355},{"g":4,"v":370},{"g":4,"v":380},{"g":4,"v":385},{"g":4,"v":400},{"g":4,"v":410},{"g":4,"v":415},{"g":4,"v":430},{"g":4,"v":445},{"g":4,"v":460},{"g":4,"v":475},{"g":4,"v":490},{"g":4,"v":505},{"g":4,"v":520},{"g":4,"v":540},{"g":4,"v":560},{"g":4,"v":580},{"g":4,"v":600},{"g":4,"v":620},{"g":4,"v":640},{"g":4,"v":670},{"g":4,"v":690},{"g":4,"v":800},{"g":4,"v":810},{"g":4,"v":880},
{"g":5,"v":0},{"g":5,"v":10},{"g":5,"v":20},{"g":5,"v":30},{"g":5,"v":35},{"g":5,"v":40},{"g":5,"v":45},{"g":5,"v":50},{"g":5,"v":55},{"g":5,"v":60},{"g":5,"v":65},{"g":5,"v":70},{"g":5,"v":72},{"g":5,"v":75},{"g":5,"v":80},{"g":5,"v":82},{"g":5,"v":85},{"g":5,"v":90},{"g":5,"v":92},{"g":5,"v":95},{"g":5,"v":100},{"g":5,"v":102},{"g":5,"v":105},{"g":5,"v":110},{"g":5,"v":112},{"g":5,"v":115},{"g":5,"v":120},{"g":5,"v":122},{"g":5,"v":125},{"g":5,"v":130},{"g":5,"v":132},{"g":5,"v":135},{"g":5,"v":140},{"g":5,"v":142},{"g":5,"v":145},{"g":5,"v":150},{"g":5,"v":155},{"g":5,"v":160},{"g":5,"v":165},{"g":5,"v":170},{"g":5,"v":175},{"g":5,"v":180},{"g":5,"v":185},{"g":5,"v":190},{"g":5,"v":195},{"g":5,"v":200},{"g":5,"v":205},{"g":5,"v":210},{"g":5,"v":215},{"g":5,"v":220},{"g":5,"v":225},{"g":5,"v":230},{"g":5,"v":235},{"g":5,"v":240},{"g":5,"v":245},{"g":5,"v":250},{"g":5,"v":255},{"g":5,"v":260},{"g":5,"v":265},{"g":5,"v":270},{"g":5,"v":275},{"g":5,"v":280},{"g":5,"v":285},{"g":5,"v":290},{"g":5,"v":295},{"g":5,"v":300},{"g":5,"v":305},{"g":5,"v":315},{"g":5,"v":320},{"g":5,"v":330},{"g":5,"v":335},{"g":5,"v":345},{"g":5,"v":350},{"g":5,"v":360},{"g":5,"v":365},{"g":5,"v":375},{"g":5,"v":380},{"g":5,"v":390},{"g":5,"v":395},{"g":5,"v":405},{"g":5,"v":410},{"g":5,"v":420},{"g":5,"v":425},{"g":5,"v":435},{"g":5,"v":440},{"g":5,"v":450},{"g":5,"v":455},{"g":5,"v":465},{"g":5,"v":470},{"g":5,"v":480},{"g":5,"v":490},{"g":5,"v":495},{"g":5,"v":505},{"g":5,"v":510},{"g":5,"v":520},{"g":5,"v":525},{"g":5,"v":535},{"g":5,"v":540},{"g":5,"v":550},{"g":5,"v":555},{"g":5,"v":565},{"g":5,"v":570},{"g":5,"v":580},{"g":5,"v":585},{"g":5,"v":595},{"g":5,"v":600},{"g":5,"v":610},{"g":5,"v":615},{"g":5,"v":620},{"g":5,"v":630},{"g":5,"v":635},{"g":5,"v":640},{"g":5,"v":650},{"g":5,"v":655},{"g":5,"v":660},{"g":5,"v":670},{"g":5,"v":675},{"g":5,"v":680},{"g":5,"v":690},{"g":5,"v":695},{"g":5,"v":700},{"g":5,"v":710},{"g":5,"v":720},{"g":5,"v":730},{"g":5,"v":740},{"g":5,"v":750},{"g":5,"v":760},{"g":5,"v":770},{"g":5,"v":780},{"g":5,"v":790},{"g":5,"v":800},{"g":5,"v":810},{"g":5,"v":820},{"g":5,"v":830},{"g":5,"v":845},{"g":5,"v":860},{"g":5,"v":875},{"g":5,"v":890},{"g":5,"v":905},{"g":5,"v":920},{"g":5,"v":935},{"g":5,"v":950},{"g":5,"v":1090},{"g":5,"v":1110},{"g":5,"v":1180}
]
},
"vconcat": [
{"hconcat": [
{"width": 1, "height": 1, "data": {"values": [{"t": ""}]}, "mark": {"type": "text"}, "encoding": {"text": {"field": "t"}}},
{"width": 327, "height": 207, "title": {"text": "A"},
 "layer": [
  {"data": {"name": "ccnb1"},
   "transform": [
    {"calculate": "floor(datum.v / 1.0)", "as": "bin"},
    {"window": [{"op": "row_number", "as": "r"}], "groupby": ["g", "bin"], "sort": [{"field": "v"}]},
    {"joinaggregate": [{"op": "count", "as": "n"}], "groupby": ["g", "bin"]},
    {"calculate": "datum.r - (datum.n + 1) / 2", "as": "off"}],
   "mark": {"type": "circle", "size": 19, "opacity": 1},
   "encoding": {
    "x": {"field": "g", "type": "ordinal", "title": "CCNB1", "scale": {"type": "band", "paddingInner": 0, "paddingOuter": 0.2}, "axis": {"labelExpr": "'Grade ' + datum.label"}},
    "xOffset": {"field": "off", "type": "quantitative", "scale": {"domain": [-7, 7]}},
    "y": {"field": "v", "type": "quantitative", "title": "expression (TPM)", "scale": {"domain": [0, 60], "nice": false}, "axis": {"values": [0, 20, 40, 60], "offset": 15, "titlePadding": 6, "labelPadding": 2}},
    "color": {"field": "g", "type": "ordinal", "scale": {"domain": [1, 2, 3, 4, 5], "range": ["#1f5bb8", "#3fb53f", "#ff9933", "#7751b3", "#f02626"]}, "legend": null}}},
  {"data": {"name": "stats"}, "transform": [{"filter": "datum.p == 'A'"}], "mark": {"type": "rule", "color": "black", "strokeWidth": 1.6},
   "encoding": {"x": {"field": "g", "type": "ordinal", "title": "CCNB1"}, "y": {"field": "lo", "type": "quantitative", "title": "expression (TPM)"}, "y2": {"field": "hi"}}},
  {"data": {"name": "stats"}, "transform": [{"filter": "datum.p == 'A'"}], "mark": {"type": "tick", "color": "black", "size": 20, "thickness": 1.6},
   "encoding": {"x": {"field": "g", "type": "ordinal", "title": "CCNB1"}, "y": {"field": "lo", "type": "quantitative", "title": "expression (TPM)"}}},
  {"data": {"name": "stats"}, "transform": [{"filter": "datum.p == 'A'"}], "mark": {"type": "tick", "color": "black", "size": 20, "thickness": 1.6},
   "encoding": {"x": {"field": "g", "type": "ordinal", "title": "CCNB1"}, "y": {"field": "hi", "type": "quantitative", "title": "expression (TPM)"}}},
  {"data": {"name": "stats"}, "transform": [{"filter": "datum.p == 'A'"}], "mark": {"type": "tick", "color": "black", "size": 40, "thickness": 3},
   "encoding": {"x": {"field": "g", "type": "ordinal", "title": "CCNB1"}, "y": {"field": "m", "type": "quantitative", "title": "expression (TPM)"}}},
  {"data": {"values": [{"g": 3, "v": 62.6, "t": "Spearman Correlation"}, {"g": 3, "v": 57.7, "t": "cor=0.3123"}, {"g": 3, "v": 53.3, "t": "p<0.0001"}]},
   "mark": {"type": "text", "fontSize": 13, "color": "black"},
   "encoding": {"x": {"field": "g", "type": "ordinal", "title": "CCNB1"}, "y": {"field": "v", "type": "quantitative", "title": "expression (TPM)"}, "text": {"field": "t"}}}
 ]},
{"width": 317, "height": 207, "title": {"text": "B"},
 "layer": [
  {"data": {"name": "ttk"},
   "transform": [
    {"calculate": "floor(datum.v / 0.25)", "as": "bin"},
    {"window": [{"op": "row_number", "as": "r"}], "groupby": ["g", "bin"], "sort": [{"field": "v"}]},
    {"joinaggregate": [{"op": "count", "as": "n"}], "groupby": ["g", "bin"]},
    {"calculate": "datum.r - (datum.n + 1) / 2", "as": "off"}],
   "mark": {"type": "circle", "size": 19, "opacity": 1},
   "encoding": {
    "x": {"field": "g", "type": "ordinal", "title": "TTK", "scale": {"type": "band", "paddingInner": 0, "paddingOuter": 0.15}, "axis": {"labelExpr": "'Grade ' + datum.label"}},
    "xOffset": {"field": "off", "type": "quantitative", "scale": {"domain": [-7, 7]}},
    "y": {"field": "v", "type": "quantitative", "title": "expression (TPM)", "scale": {"domain": [0, 15], "nice": false}, "axis": {"values": [0, 5, 10, 15], "offset": 20, "titlePadding": 0, "labelPadding": 0}},
    "color": {"field": "g", "type": "ordinal", "scale": {"domain": [1, 2, 3, 4, 5], "range": ["#1f5bb8", "#3fb53f", "#ff9933", "#7751b3", "#f02626"]}, "legend": null}}},
  {"data": {"name": "stats"}, "transform": [{"filter": "datum.p == 'B'"}], "mark": {"type": "rule", "color": "black", "strokeWidth": 1.6},
   "encoding": {"x": {"field": "g", "type": "ordinal", "title": "TTK"}, "y": {"field": "lo", "type": "quantitative", "title": "expression (TPM)"}, "y2": {"field": "hi"}}},
  {"data": {"name": "stats"}, "transform": [{"filter": "datum.p == 'B'"}], "mark": {"type": "tick", "color": "black", "size": 20, "thickness": 1.6},
   "encoding": {"x": {"field": "g", "type": "ordinal", "title": "TTK"}, "y": {"field": "lo", "type": "quantitative", "title": "expression (TPM)"}}},
  {"data": {"name": "stats"}, "transform": [{"filter": "datum.p == 'B'"}], "mark": {"type": "tick", "color": "black", "size": 20, "thickness": 1.6},
   "encoding": {"x": {"field": "g", "type": "ordinal", "title": "TTK"}, "y": {"field": "hi", "type": "quantitative", "title": "expression (TPM)"}}},
  {"data": {"name": "stats"}, "transform": [{"filter": "datum.p == 'B'"}], "mark": {"type": "tick", "color": "black", "size": 40, "thickness": 3},
   "encoding": {"x": {"field": "g", "type": "ordinal", "title": "TTK"}, "y": {"field": "m", "type": "quantitative", "title": "expression (TPM)"}}},
  {"data": {"values": [{"g": 3, "v": 15.65, "t": "Spearman Correlation"}, {"g": 3, "v": 14.42, "t": "cor=0.3019"}, {"g": 3, "v": 13.33, "t": "p<0.0001"}]},
   "mark": {"type": "text", "fontSize": 13, "color": "black"},
   "encoding": {"x": {"field": "g", "type": "ordinal", "title": "TTK"}, "y": {"field": "v", "type": "quantitative", "title": "expression (TPM)"}, "text": {"field": "t"}}}
 ]}
], "spacing": 27},
{"hconcat": [
{"width": 6, "height": 1, "data": {"values": [{"t": ""}]}, "mark": {"type": "text"}, "encoding": {"text": {"field": "t"}}},
{"width": 314, "height": 207, "title": {"text": "C"},
 "layer": [
  {"data": {"name": "actg2"},
   "transform": [
    {"calculate": "floor(datum.v / 70)", "as": "bin"},
    {"window": [{"op": "row_number", "as": "r"}], "groupby": ["g", "bin"], "sort": [{"field": "v"}]},
    {"joinaggregate": [{"op": "count", "as": "n"}], "groupby": ["g", "bin"]},
    {"calculate": "datum.r - (datum.n + 1) / 2", "as": "off"}],
   "mark": {"type": "circle", "size": 19, "opacity": 1},
   "encoding": {
    "x": {"field": "g", "type": "ordinal", "title": "ACTG2", "scale": {"type": "band", "paddingInner": 0, "paddingOuter": 0.17}, "axis": {"labelExpr": "'Grade ' + datum.label"}},
    "xOffset": {"field": "off", "type": "quantitative", "scale": {"domain": [-7, 7]}},
    "y": {"field": "v", "type": "quantitative", "title": "expression (TPM)", "scale": {"domain": [0, 3000], "nice": false}, "axis": {"values": [0, 1000, 2000, 3000], "offset": 16, "titlePadding": 1, "labelPadding": 0}},
    "color": {"field": "g", "type": "ordinal", "scale": {"domain": [1, 2, 3, 4, 5], "range": ["#1f5bb8", "#3fb53f", "#ff9933", "#7751b3", "#f02626"]}, "legend": null}}},
  {"data": {"name": "stats"}, "transform": [{"filter": "datum.p == 'C'"}], "mark": {"type": "rule", "color": "black", "strokeWidth": 1.6},
   "encoding": {"x": {"field": "g", "type": "ordinal", "title": "ACTG2"}, "y": {"field": "lo", "type": "quantitative", "title": "expression (TPM)"}, "y2": {"field": "hi"}}},
  {"data": {"name": "stats"}, "transform": [{"filter": "datum.p == 'C'"}], "mark": {"type": "tick", "color": "black", "size": 20, "thickness": 1.6},
   "encoding": {"x": {"field": "g", "type": "ordinal", "title": "ACTG2"}, "y": {"field": "lo", "type": "quantitative", "title": "expression (TPM)"}}},
  {"data": {"name": "stats"}, "transform": [{"filter": "datum.p == 'C'"}], "mark": {"type": "tick", "color": "black", "size": 20, "thickness": 1.6},
   "encoding": {"x": {"field": "g", "type": "ordinal", "title": "ACTG2"}, "y": {"field": "hi", "type": "quantitative", "title": "expression (TPM)"}}},
  {"data": {"name": "stats"}, "transform": [{"filter": "datum.p == 'C'"}], "mark": {"type": "tick", "color": "black", "size": 40, "thickness": 3},
   "encoding": {"x": {"field": "g", "type": "ordinal", "title": "ACTG2"}, "y": {"field": "m", "type": "quantitative", "title": "expression (TPM)"}}},
  {"data": {"values": [{"g": 3, "v": 3130, "t": "Spearman Correlation"}, {"g": 3, "v": 2884, "t": "cor=-0.2813"}, {"g": 3, "v": 2681, "t": "p<0.0001"}]},
   "mark": {"type": "text", "fontSize": 13, "color": "black"},
   "encoding": {"x": {"field": "g", "type": "ordinal", "title": "ACTG2"}, "y": {"field": "v", "type": "quantitative", "title": "expression (TPM)"}, "text": {"field": "t"}}}
 ]},
{"width": 306, "height": 207, "title": {"text": "D"},
 "layer": [
  {"data": {"name": "cnn1"},
   "transform": [
    {"calculate": "floor(datum.v / 40)", "as": "bin"},
    {"window": [{"op": "row_number", "as": "r"}], "groupby": ["g", "bin"], "sort": [{"field": "v"}]},
    {"joinaggregate": [{"op": "count", "as": "n"}], "groupby": ["g", "bin"]},
    {"calculate": "datum.r - (datum.n + 1) / 2", "as": "off"}],
   "mark": {"type": "circle", "size": 19, "opacity": 1},
   "encoding": {
    "x": {"field": "g", "type": "ordinal", "title": "CNN1", "scale": {"type": "band", "paddingInner": 0, "paddingOuter": 0.15}, "axis": {"labelExpr": "'Grade ' + datum.label"}},
    "xOffset": {"field": "off", "type": "quantitative", "scale": {"domain": [-7, 7]}},
    "y": {"field": "v", "type": "quantitative", "title": "expression (TPM)", "scale": {"domain": [0, 2000], "nice": false}, "axis": {"values": [0, 500, 1000, 1500, 2000], "offset": 19, "titlePadding": 1, "labelPadding": 1}},
    "color": {"field": "g", "type": "ordinal", "scale": {"domain": [1, 2, 3, 4, 5], "range": ["#1f5bb8", "#3fb53f", "#ff9933", "#7751b3", "#f02626"]}, "legend": null}}},
  {"data": {"name": "stats"}, "transform": [{"filter": "datum.p == 'D'"}], "mark": {"type": "rule", "color": "black", "strokeWidth": 1.6},
   "encoding": {"x": {"field": "g", "type": "ordinal", "title": "CNN1"}, "y": {"field": "lo", "type": "quantitative", "title": "expression (TPM)"}, "y2": {"field": "hi"}}},
  {"data": {"name": "stats"}, "transform": [{"filter": "datum.p == 'D'"}], "mark": {"type": "tick", "color": "black", "size": 20, "thickness": 1.6},
   "encoding": {"x": {"field": "g", "type": "ordinal", "title": "CNN1"}, "y": {"field": "lo", "type": "quantitative", "title": "expression (TPM)"}}},
  {"data": {"name": "stats"}, "transform": [{"filter": "datum.p == 'D'"}], "mark": {"type": "tick", "color": "black", "size": 20, "thickness": 1.6},
   "encoding": {"x": {"field": "g", "type": "ordinal", "title": "CNN1"}, "y": {"field": "hi", "type": "quantitative", "title": "expression (TPM)"}}},
  {"data": {"name": "stats"}, "transform": [{"filter": "datum.p == 'D'"}], "mark": {"type": "tick", "color": "black", "size": 40, "thickness": 3},
   "encoding": {"x": {"field": "g", "type": "ordinal", "title": "CNN1"}, "y": {"field": "m", "type": "quantitative", "title": "expression (TPM)"}}},
  {"data": {"values": [{"g": 3, "v": 2097, "t": "Spearman Correlation"}, {"g": 3, "v": 1932, "t": "cor=-0.2506"}, {"g": 3, "v": 1797, "t": "p<0.0001"}]},
   "mark": {"type": "text", "fontSize": 13, "color": "black"},
   "encoding": {"x": {"field": "g", "type": "ordinal", "title": "CNN1"}, "y": {"field": "v", "type": "quantitative", "title": "expression (TPM)"}, "text": {"field": "t"}}}
 ]}
], "spacing": 24}
],
"spacing": 20
}
